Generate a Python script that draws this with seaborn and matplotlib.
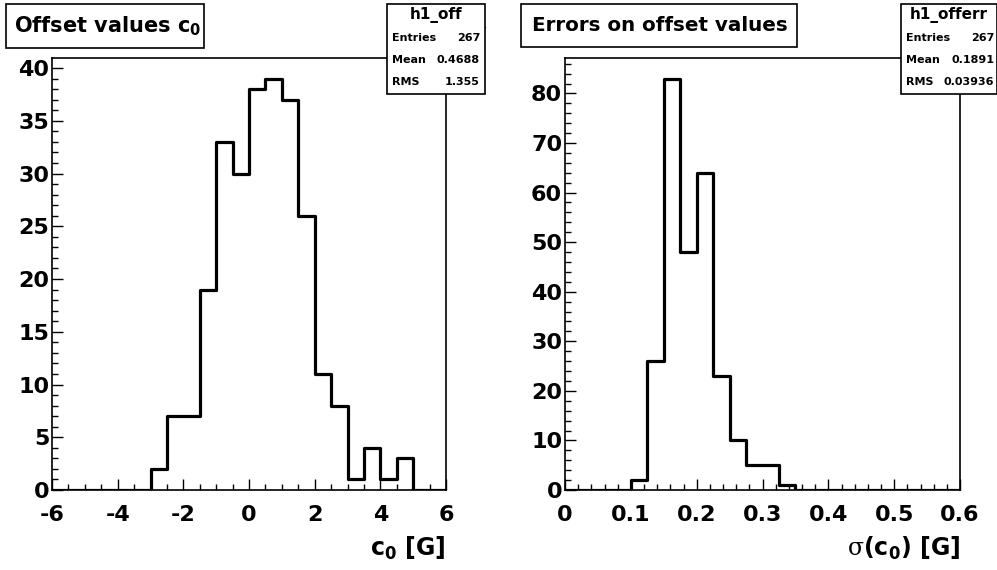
import numpy as np
import pandas as pd
import matplotlib
matplotlib.use("Agg")
import matplotlib.pyplot as plt
import seaborn as sns
from matplotlib.patches import Rectangle
from matplotlib.ticker import MultipleLocator

# histogram contents
off_range = (-6.0, 6.0)
off_counts = [0, 0, 0, 0, 0, 0, 2, 7, 7, 19, 33, 30,
              38, 39, 37, 26, 11, 8, 1, 4, 1, 3, 0, 0]
err_range = (0.0, 0.6)
err_counts = [0, 0, 0, 0, 2, 26, 83, 48, 64, 23, 10, 5,
              5, 1, 0, 0, 0, 0, 0, 0, 0, 0, 0, 0]

off_stats = ["h1_off", "267", "0.4688", "1.355"]
err_stats = ["h1_offerr", "267", "0.1891", "0.03936"]

sns.set_theme(style="white")
plt.rcParams['font.family'] = ['DejaVu Sans']
plt.rcParams['font.weight'] = 'bold'
plt.rcParams['text.color'] = 'black'
plt.rcParams['axes.labelcolor'] = 'black'
plt.rcParams['xtick.color'] = 'black'
plt.rcParams['ytick.color'] = 'black'
plt.rcParams['mathtext.fontset'] = 'custom'
plt.rcParams['mathtext.rm'] = 'DejaVu Sans:bold'
plt.rcParams['mathtext.bf'] = 'DejaVu Sans:bold'
plt.rcParams['mathtext.it'] = 'DejaVu Sans:bold'
plt.rcParams['mathtext.sf'] = 'DejaVu Serif:normal'

W, H = 997, 570
fig = plt.figure(figsize=(W / 100, H / 100), dpi=100)
fig.patch.set_facecolor("white")


def fx(px):
    return px / W


def fy(py):
    return 1 - py / H


def draw_hist(rect, counts, rng, ymax, xmaj, xmin, ymaj, ymin, xfmt, xlabel):
    ax = fig.add_axes(rect)
    edges = np.linspace(rng[0], rng[1], len(counts) + 1)
    df = pd.DataFrame({"x": 0.5 * (edges[:-1] + edges[1:]),
                       "n": np.asarray(counts, dtype=float)})
    sns.histplot(data=df, x="x", weights="n", bins=list(edges), element="step",
                 fill=False, color="black", linewidth=2.3, ax=ax)
    ax.set_xlim(rng)
    ax.set_ylim(0, ymax)
    ax.set_ylabel("")
    ax.xaxis.set_major_locator(MultipleLocator(xmaj))
    ax.xaxis.set_minor_locator(MultipleLocator(xmin))
    ax.yaxis.set_major_locator(MultipleLocator(ymaj))
    ax.yaxis.set_minor_locator(MultipleLocator(ymin))
    ax.xaxis.set_major_formatter(xfmt)
    ax.tick_params(which="both", direction="in", bottom=True, left=True,
                   top=False, right=False, color="black", width=1)
    ax.tick_params(which="major", length=8, labelsize=16, labelcolor="black")
    ax.tick_params(which="minor", length=4)
    ax.tick_params(axis="y", pad=2)
    ax.tick_params(axis="x", pad=11)
    for s in ax.spines.values():
        s.set_color("black")
        s.set_linewidth(1.2)
    ax.set_xlabel(xlabel, loc="right", fontsize=17, fontweight="bold",
                  color="black", labelpad=7)
    return ax


def title_box(x0, x1, y0, y1, text, tx, size):
    fig.patches.append(Rectangle((fx(x0), fy(y1)), fx(x1 - x0), (y1 - y0) / H,
                                 transform=fig.transFigure, fill=True,
                                 facecolor="white", edgecolor="black", lw=1.2))
    fig.text(fx(tx), fy((y0 + y1) / 2), text, fontsize=size, fontweight="bold",
             ha="left", va="center", color="black")


def stats_box(x0, x1, y0, y1, lines, lx, rx):
    fig.patches.append(Rectangle((fx(x0), fy(y1)), fx(x1 - x0), (y1 - y0) / H,
                                 transform=fig.transFigure, fill=True,
                                 facecolor="white", edgecolor="black", lw=1.2,
                                 zorder=5))
    hline = 27
    fig.add_artist(plt.Line2D([fx(x0), fx(x1)], [fy(hline), fy(hline)],
                              transform=fig.transFigure, color="black", lw=1))
    fig.text(fx((x0 + x1) / 2), fy(15), lines[0], fontsize=11,
             fontweight="bold", ha="center", va="center", zorder=6,
             color="black")
    for name, val, yy in zip(["Entries", "Mean", "RMS"], lines[1:], [38, 60, 82]):
        fig.text(fx(lx), fy(yy), name, fontsize=8, fontweight="bold",
                 ha="left", va="center", zorder=6, color="black")
        fig.text(fx(rx), fy(yy), val, fontsize=8, fontweight="bold",
                 ha="right", va="center", zorder=6, color="black")


ax1 = draw_hist([fx(52), fy(490), fx(394), 432 / H], off_counts, off_range,
                max(off_counts) * 1.05, 2, 0.5, 5, 1,
                plt.FuncFormatter(lambda v, p: f"{v:g}"),
                r"c$_0$ [G]")
ax2 = draw_hist([fx(565), fy(490), fx(395), 432 / H], err_counts, err_range,
                max(err_counts) * 1.05, 0.1, 0.02, 10, 2,
                plt.FuncFormatter(lambda v, p: f"{v:.1f}" if v else "0"),
                r"$\mathsf{\sigma}$(c$_0$) [G]")

title_box(6, 204, 4, 48, r"Offset values c$_0$", 14, 15)
title_box(521, 797, 4, 47, "Errors on offset values", 532, 14.3)
stats_box(387, 485, 4, 94, off_stats, 392, 480)
stats_box(901, 997, 4, 94, err_stats, 906, 994)

fig.savefig("out.png", dpi=100)
